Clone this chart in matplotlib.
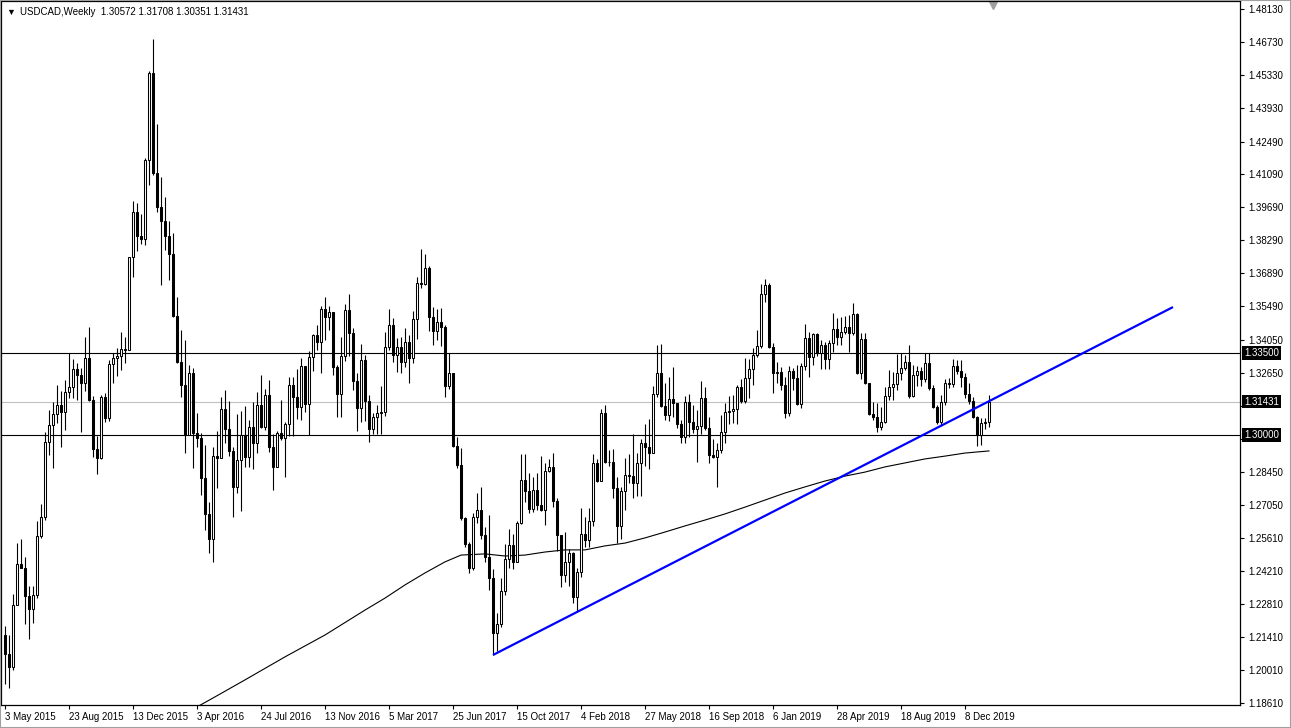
import numpy as np
import pandas as pd
import matplotlib
matplotlib.use("Agg")
import matplotlib.pyplot as plt
from matplotlib.patches import Rectangle
from matplotlib.transforms import blended_transform_factory

plt.rcParams['font.family'] = ['Liberation Sans', 'DejaVu Sans']

# Weekly USDCAD candles, week of 3 May 2015 onwards
first_open = 1.2151
closes = [
    1.2069, 1.2015, 1.2279, 1.2451, 1.2437, 1.2315, 1.2260, 1.2320, 1.2569, 1.2651,
    1.2969, 1.3042, 1.3088, 1.3127, 1.3100, 1.3182, 1.3206, 1.3282, 1.3255, 1.3224,
    1.3328, 1.3151, 1.2942, 1.2902, 1.3164, 1.3073, 1.3302, 1.3328, 1.3338, 1.3366,
    1.3364, 1.3757, 1.3951, 1.3847, 1.3833, 1.4169, 1.4542, 1.4115, 1.3969, 1.3913,
    1.3847, 1.3769, 1.3507, 1.3313, 1.3213, 1.3001, 1.3263, 1.3008, 1.2987, 1.2816,
    1.2665, 1.2557, 1.2912, 1.2905, 1.3110, 1.3025, 1.2934, 1.2778, 1.2895, 1.3001,
    1.2906, 1.3036, 1.2968, 1.3127, 1.3036, 1.3171, 1.2951, 1.2863, 1.3011, 1.2988,
    1.3048, 1.3213, 1.3164, 1.3121, 1.3294, 1.3133, 1.3334, 1.3426, 1.3398, 1.3535,
    1.3501, 1.3525, 1.3289, 1.3175, 1.3337, 1.3532, 1.3436, 1.3232, 1.3114, 1.3320,
    1.3147, 1.3025, 1.3079, 1.3095, 1.3100, 1.3374, 1.3469, 1.3341, 1.3374, 1.3313,
    1.3398, 1.3327, 1.3493, 1.3646, 1.3643, 1.3710, 1.3504, 1.3445, 1.3483, 1.3459,
    1.3209, 1.3266, 1.2954, 1.2873, 1.2646, 1.2537, 1.2434, 1.2651, 1.2682, 1.2575,
    1.2481, 1.2391, 1.2157, 1.2197, 1.2339, 1.2472, 1.2533, 1.2462, 1.2625, 1.2810,
    1.2764, 1.2685, 1.2767, 1.2703, 1.2682, 1.2849, 1.2863, 1.2722, 1.2575, 1.2405,
    1.2462, 1.2498, 1.2310, 1.2420, 1.2580, 1.2554, 1.2636, 1.2880, 1.2807, 1.3096,
    1.2887, 1.2884, 1.2774, 1.2614, 1.2764, 1.2831, 1.2825, 1.2795, 1.2883, 1.2968,
    1.2948, 1.2923, 1.3175, 1.3263, 1.3124, 1.3086, 1.3153, 1.3138, 1.3048, 1.2991,
    1.3143, 1.3058, 1.3025, 1.3039, 1.3157, 1.3029, 1.2916, 1.2906, 1.2937, 1.3015,
    1.3100, 1.3104, 1.3110, 1.3204, 1.3147, 1.3242, 1.3280, 1.3341, 1.3379, 1.3601,
    1.3639, 1.3374, 1.3263, 1.3268, 1.3213, 1.3093, 1.3274, 1.3242, 1.3133, 1.3294,
    1.3412, 1.3334, 1.3430, 1.3348, 1.3384, 1.3323, 1.3391, 1.3450, 1.3416, 1.3440,
    1.3462, 1.3436, 1.3516, 1.3263, 1.3408, 1.3221, 1.3090, 1.3076, 1.3033, 1.3058,
    1.3167, 1.3206, 1.3218, 1.3266, 1.3284, 1.3313, 1.3167, 1.3255, 1.3272, 1.3240,
    1.3306, 1.3199, 1.3121, 1.3057, 1.3140, 1.3222, 1.3216, 1.3294, 1.3275, 1.3249,
    1.3175, 1.3147, 1.3079, 1.3001, 1.3050, 1.3057, 1.31431,
]
highs = [
    1.2188, 1.2151, 1.2324, 1.2542, 1.2560, 1.2482, 1.2360, 1.2360, 1.2633, 1.2706,
    1.3015, 1.3106, 1.3142, 1.3215, 1.3187, 1.3233, 1.3351, 1.3324, 1.3306, 1.3287,
    1.3418, 1.3460, 1.3165, 1.2997, 1.3170, 1.3180, 1.3320, 1.3351, 1.3369, 1.3437,
    1.3418, 1.3760, 1.3996, 1.3987, 1.3942, 1.4178, 1.4551, 1.4687, 1.4324, 1.4100,
    1.4015, 1.3913, 1.3862, 1.3589, 1.3448, 1.3405, 1.3299, 1.3284, 1.3093, 1.3008,
    1.2958, 1.2717, 1.2951, 1.3019, 1.3161, 1.3192, 1.3147, 1.2951, 1.3090, 1.3104,
    1.3124, 1.3065, 1.3143, 1.3185, 1.3256, 1.3195, 1.3235, 1.3005, 1.3016, 1.3150,
    1.3058, 1.3249, 1.3249, 1.3280, 1.3327, 1.3280, 1.3360, 1.3431, 1.3469, 1.3550,
    1.3589, 1.3550, 1.3525, 1.3299, 1.3419, 1.3558, 1.3601, 1.3455, 1.3266, 1.3388,
    1.3341, 1.3171, 1.3093, 1.3128, 1.3209, 1.3440, 1.3535, 1.3497, 1.3412, 1.3416,
    1.3455, 1.3426, 1.3530, 1.3671, 1.3791, 1.3771, 1.3720, 1.3547, 1.3535, 1.3540,
    1.3469, 1.3351, 1.3266, 1.2993, 1.2944, 1.2654, 1.2547, 1.2668, 1.2753, 1.2781,
    1.2611, 1.2661, 1.2429, 1.2242, 1.2391, 1.2537, 1.2600, 1.2580, 1.2636, 1.2920,
    1.2920, 1.2841, 1.2824, 1.2838, 1.2911, 1.2883, 1.2897, 1.2926, 1.2731, 1.2543,
    1.2590, 1.2515, 1.2505, 1.2434, 1.2689, 1.2653, 1.2689, 1.2920, 1.2900, 1.3110,
    1.3128, 1.2938, 1.2940, 1.2820, 1.2781, 1.2901, 1.2920, 1.3004, 1.2926, 1.2982,
    1.3048, 1.3068, 1.3209, 1.3384, 1.3388, 1.3224, 1.3249, 1.3289, 1.3133, 1.3065,
    1.3167, 1.3175, 1.3129, 1.3107, 1.3232, 1.3204, 1.3079, 1.2982, 1.2965, 1.3086,
    1.3138, 1.3167, 1.3170, 1.3214, 1.3238, 1.3327, 1.3323, 1.3369, 1.3448, 1.3643,
    1.3663, 1.3649, 1.3394, 1.3310, 1.3290, 1.3246, 1.3294, 1.3285, 1.3298, 1.3309,
    1.3473, 1.3440, 1.3436, 1.3436, 1.3405, 1.3398, 1.3405, 1.3521, 1.3497, 1.3501,
    1.3507, 1.3511, 1.3564, 1.3518, 1.3433, 1.3433, 1.3218, 1.3143, 1.3138, 1.3121,
    1.3206, 1.3277, 1.3270, 1.3345, 1.3348, 1.3341, 1.3384, 1.3298, 1.3296, 1.3290,
    1.3349, 1.3349, 1.3215, 1.3130, 1.3170, 1.3240, 1.3245, 1.3326, 1.3320, 1.3320,
    1.3263, 1.3220, 1.3162, 1.3083, 1.3072, 1.3072, 1.31708,
]
lows = [
    1.1942, 1.1924, 1.2002, 1.2279, 1.2433, 1.2197, 1.2133, 1.2200, 1.2306, 1.2564,
    1.2640, 1.2915, 1.2860, 1.3051, 1.2951, 1.3024, 1.3160, 1.3160, 1.3151, 1.3015,
    1.3190, 1.3146, 1.2906, 1.2833, 1.2897, 1.3055, 1.3060, 1.3220, 1.3251, 1.3278,
    1.3306, 1.3364, 1.3673, 1.3782, 1.3815, 1.3811, 1.4066, 1.4106, 1.3951, 1.3637,
    1.3787, 1.3660, 1.3504, 1.3309, 1.3164, 1.2923, 1.3022, 1.2859, 1.2951, 1.2745,
    1.2597, 1.2497, 1.2462, 1.2774, 1.2944, 1.2965, 1.2911, 1.2653, 1.2753, 1.2679,
    1.2866, 1.2863, 1.2855, 1.2926, 1.3029, 1.3022, 1.2930, 1.2767, 1.2887, 1.2980,
    1.2821, 1.2997, 1.2997, 1.3068, 1.3065, 1.3100, 1.3001, 1.3275, 1.3363, 1.3263,
    1.3405, 1.3447, 1.3256, 1.3079, 1.3079, 1.3317, 1.3337, 1.3192, 1.3019, 1.3058,
    1.3062, 1.2972, 1.3005, 1.3005, 1.3005, 1.3082, 1.3362, 1.3313, 1.3270, 1.3263,
    1.3291, 1.3223, 1.3306, 1.3408, 1.3625, 1.3639, 1.3445, 1.3384, 1.3405, 1.3379,
    1.3164, 1.3195, 1.2948, 1.2859, 1.2639, 1.2526, 1.2415, 1.2427, 1.2628, 1.2557,
    1.2462, 1.2342, 1.2065, 1.2083, 1.2185, 1.2320, 1.2434, 1.2429, 1.2472, 1.2622,
    1.2717, 1.2668, 1.2675, 1.2682, 1.2679, 1.2618, 1.2845, 1.2696, 1.2509, 1.2356,
    1.2377, 1.2359, 1.2285, 1.2249, 1.2398, 1.2526, 1.2525, 1.2614, 1.2799, 1.2812,
    1.2880, 1.2870, 1.2732, 1.2540, 1.2560, 1.2680, 1.2795, 1.2731, 1.2741, 1.2741,
    1.2869, 1.2855, 1.3009, 1.3164, 1.3121, 1.3065, 1.3062, 1.3079, 1.3029, 1.2968,
    1.2965, 1.2994, 1.3008, 1.2887, 1.3005, 1.3022, 1.2883, 1.2901, 1.2781, 1.2926,
    1.2968, 1.3048, 1.3050, 1.3048, 1.3138, 1.3138, 1.3157, 1.3213, 1.3331, 1.3370,
    1.3568, 1.3369, 1.3178, 1.3220, 1.3194, 1.3071, 1.3082, 1.3192, 1.3128, 1.3114,
    1.3277, 1.3249, 1.3299, 1.3337, 1.3280, 1.3280, 1.3280, 1.3355, 1.3384, 1.3384,
    1.3430, 1.3355, 1.3427, 1.3260, 1.3238, 1.3218, 1.3086, 1.3065, 1.3015, 1.3022,
    1.3050, 1.3150, 1.3150, 1.3192, 1.3235, 1.3278, 1.3157, 1.3164, 1.3210, 1.3210,
    1.3225, 1.3192, 1.3114, 1.3049, 1.3040, 1.3130, 1.3200, 1.3207, 1.3262, 1.3207,
    1.3157, 1.3132, 1.3072, 1.2954, 1.2957, 1.3028, 1.30351,
]

# 200-week moving average, read at a few weeks
ma_weeks = [48, 52, 60, 70, 80, 90, 95, 100, 105, 110, 114, 120, 125, 130, 135, 140,
            145, 150, 155, 160, 165, 170, 175, 180, 185, 190, 195, 200, 205, 210, 215,
            220, 225, 230, 235, 240, 246]
ma_values = [1.1844, 1.1882, 1.1959, 1.2057, 1.2150, 1.2256, 1.2307, 1.2363, 1.2414,
             1.2461, 1.2490, 1.2495, 1.2486, 1.2490, 1.2503, 1.2512, 1.2512, 1.2529,
             1.2541, 1.2563, 1.2588, 1.2614, 1.2639, 1.2665, 1.2694, 1.2724, 1.2754,
             1.2780, 1.2805, 1.2826, 1.2843, 1.2865, 1.2882, 1.2899, 1.2911, 1.2924,
             1.2933]

# trend line anchors (week index, price)
trend_weeks = [122, 292]
trend_prices = [1.2065, 1.3545]

levels = [1.33500, 1.30000]
last_price = 1.31431

price_ticks = [1.48130, 1.46730, 1.45330, 1.43930, 1.42490, 1.41090, 1.39690, 1.38290,
               1.36890, 1.35490, 1.34050, 1.32650, 1.31250, 1.29850, 1.28450, 1.27050,
               1.25610, 1.24210, 1.22810, 1.21410, 1.20010, 1.18610]
# these two sit under the price boxes on the scale
covered_ticks = [1.31250, 1.29850]

header = "USDCAD,Weekly  1.30572 1.31708 1.30351 1.31431"

opens = [first_open] + closes[:-1]
weeks = np.arange(len(closes))
dates = pd.date_range("2015-05-03", periods=len(closes), freq="W-SUN")

W, H = 1291, 728
fig = plt.figure(figsize=(W / 100, H / 100), dpi=100)
ax = fig.add_axes([1 / W, 23 / H, 1239 / W, 704 / H])
ax.set_xlim(-1, 308.75)
ax.set_ylim(1.18522, 1.48470)

# horizontal levels
for lv in levels:
    ax.axhline(lv, color="black", linewidth=0.8, zorder=1)
ax.axhline(last_price, color="#c0c0c0", linewidth=0.8, zorder=1)

# candles
ax.vlines(weeks, lows, highs, color="black", linewidth=0.8, zorder=2)
for i, (o, c) in enumerate(zip(opens, closes)):
    bull = c >= o
    bottom = min(o, c)
    height = max(abs(c - o), 0.00004)
    ax.bar(i, height, bottom=bottom, width=0.5,
           color="white" if bull else "black",
           edgecolor="black", linewidth=0.75, zorder=3)

# moving average and trend line
ax.plot(ma_weeks, ma_values, color="black", linewidth=0.8, zorder=2.5)
ax.plot(trend_weeks, trend_prices, color="#0000ff", linewidth=1.6, zorder=4,
        solid_capstyle="butt")

# axes cosmetics
for sp in ax.spines.values():
    sp.set_linewidth(0.9)
ax.yaxis.tick_right()
ax.set_yticks(price_ticks)
ax.set_yticklabels(["" if p in covered_ticks else f"{p:.5f}" for p in price_ticks])
ax.tick_params(axis="y", length=3, width=0.8, pad=3, labelsize=7)

tick_idx = weeks[::16]
ax.set_xticks(tick_idx)
ax.set_xticklabels([f"{d.day} {d.strftime('%b %Y')}" for d in dates[tick_idx]])
ax.tick_params(axis="x", length=3, width=0.8, pad=2, labelsize=7)
for lab in ax.get_xticklabels():
    lab.set_horizontalalignment("left")

# price boxes on the scale
tr = blended_transform_factory(ax.transAxes, ax.transData)
for p in levels + [last_price]:
    ax.text(1.0 + 4 / 1239, p, f"{p:.5f}", transform=tr, ha="left", va="center",
            color="white", fontsize=7, zorder=10, clip_on=False,
            bbox=dict(boxstyle="square,pad=0.18", fc="black", ec="none"))

# header and chart shift marker
fig.text(6 / W, 1 - 12 / H, "\u25bc", fontsize=6.5, va="center", ha="left")
fig.text(20 / W, 1 - 12 / H, header, fontsize=7, va="center", ha="left")
ax.plot([247], [0.994], marker="v", color="#a0a0a0", markersize=6,
        transform=blended_transform_factory(ax.transData, ax.transAxes), clip_on=False)

fig.patches.append(Rectangle((0, 0), 1, 1, transform=fig.transFigure, fill=False,
                             edgecolor="#a0a0a0", linewidth=1.5))

fig.savefig("out.png", dpi=100)
